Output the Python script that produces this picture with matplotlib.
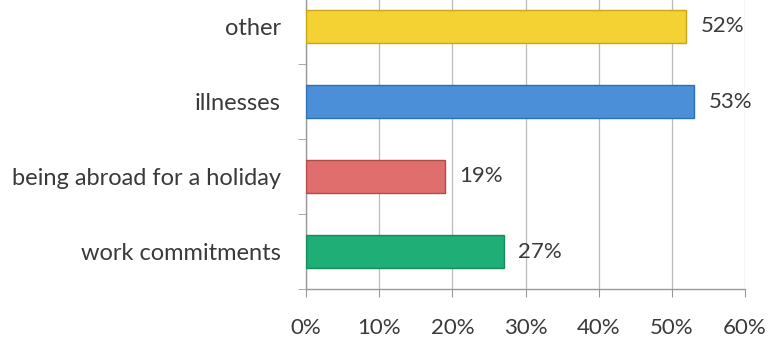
import numpy as np
import matplotlib.pyplot as plt
from matplotlib.ticker import FixedLocator, FuncFormatter

plt.rcParams['font.family'] = ['Lato', 'DejaVu Sans']

reasons = ['work commitments', 'being abroad for a holiday', 'illnesses', 'other']
shares = [27, 19, 53, 52]
bar_colors = ['#1fae76', '#e06e6c', '#4a8fd8', '#f4d234']
edge_colors = ['#168a5c', '#b04c4c', '#2f6fb5', '#c9a818']

fig = plt.figure(figsize=(7.68, 3.42), dpi=100)
ax = fig.add_axes([306 / 768, 53 / 342, 439 / 768, 300 / 342])

y = np.arange(len(reasons))
ax.barh(y, shares, height=0.43, color=bar_colors, edgecolor=edge_colors,
        linewidth=1.0, zorder=3)

for yi, v in zip(y, shares):
    ax.text(v + 2.0, yi, f'{v}%', va='center', ha='left',
            fontsize=16, color='#3a3a3a')

ax.set_xlim(0, 60)
ax.set_ylim(-0.5, 3.5)
ax.set_xticks(np.arange(0, 61, 10))
ax.xaxis.set_major_formatter(FuncFormatter(lambda v, _: f'{v:.0f}%'))
ax.set_yticks(y)
ax.set_yticklabels(reasons)
ax.yaxis.set_minor_locator(FixedLocator(np.arange(-0.5, 4, 1)))

ax.tick_params(axis='y', which='major', length=0, pad=18, labelsize=17,
               labelcolor='#3a3a3a')
ax.tick_params(axis='y', which='minor', length=6, color='#999999')
ax.tick_params(axis='x', length=6, color='#999999', pad=15, labelsize=16,
               labelcolor='#3a3a3a')

ax.grid(axis='x', color='#bbbbbb', linewidth=0.9, zorder=0)
for side in ['top', 'right']:
    ax.spines[side].set_visible(False)
for side in ['left', 'bottom']:
    ax.spines[side].set_color('#999999')
    ax.spines[side].set_linewidth(1.0)

fig.savefig('out.png', dpi=100)
